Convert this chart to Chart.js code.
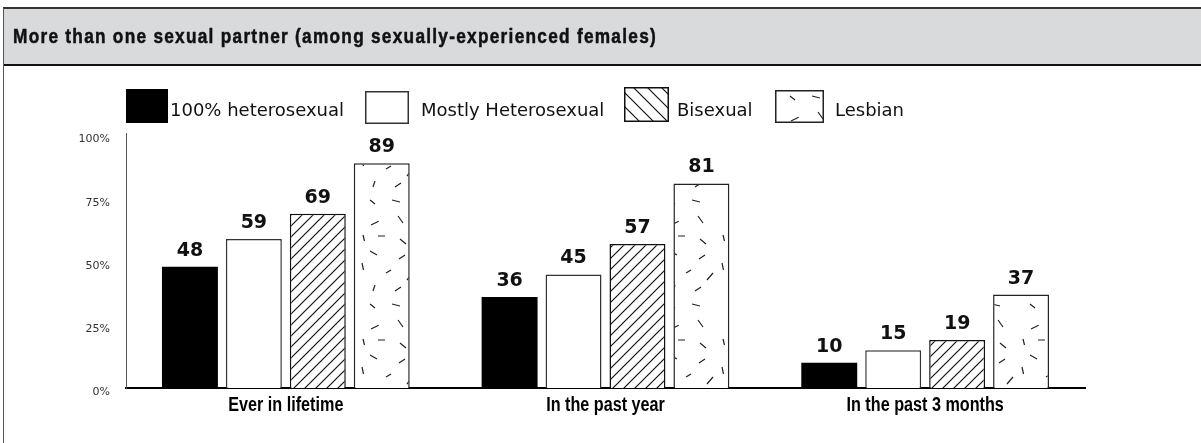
<!DOCTYPE html>
<html><head><meta charset="utf-8">
<script src="https://cdn.jsdelivr.net/npm/chart.js@4.4.0/dist/chart.umd.min.js"></script>
<style>
html,body{margin:0;padding:0;background:#fff;width:1201px;height:443px;overflow:hidden;}
#frame{position:absolute;left:3px;top:7px;width:1198px;height:436px;border-left:1.5px solid #555;border-top:2px solid #333;box-sizing:border-box;}
#title{position:absolute;left:0;top:0;width:100%;height:57px;background:#d9dadb;border-bottom:2px solid #111;box-sizing:border-box;}
#c{position:absolute;left:0;top:0;z-index:2;}
</style></head>
<body>
<div id="frame"><div id="title"></div></div>
<canvas id="c" width="1201" height="443"></canvas>
<script>
const titleText = "More than one sexual partner (among sexually-experienced females)";
const categories = ["Ever in lifetime", "In the past year", "In the past 3 months"];
const seriesNames = ["100% heterosexual", "Mostly Heterosexual", "Bisexual", "Lesbian"];
const heterosexual = [48, 36, 10];
const mostlyHetero = [59, 45, 15];
const bisexual = [69, 57, 19];
const lesbian = [89, 81, 37];
const yTickValues = [0, 25, 50, 75, 100];
const yTickLabels = ["0%", "25%", "50%", "75%", "100%"];

const canvas = document.getElementById('c');
const ctx = canvas.getContext('2d');

function hatch(size, dir, lw, color) {
  const c = document.createElement('canvas'); c.width = size; c.height = size;
  const g = c.getContext('2d');
  g.fillStyle = '#fff'; g.fillRect(0, 0, size, size);
  g.strokeStyle = color; g.lineWidth = lw;
  g.beginPath();
  if (dir === '/') {
    g.moveTo(-2, 2); g.lineTo(2, -2);
    g.moveTo(-1, size + 1); g.lineTo(size + 1, -1);
    g.moveTo(size - 2, size + 2); g.lineTo(size + 2, size - 2);
  } else {
    g.moveTo(-1, -1); g.lineTo(size + 1, size + 1);
    g.moveTo(-2, size - 2); g.lineTo(2, size + 2);
    g.moveTo(size - 2, -2); g.lineTo(size + 2, 2);
  }
  g.stroke();
  return ctx.createPattern(c, 'repeat');
}
function dashes() {
  const W = 60, H = 104;
  const c = document.createElement('canvas'); c.width = W; c.height = H;
  const g = c.getContext('2d');
  g.fillStyle = '#fff'; g.fillRect(0, 0, W, H);
  g.strokeStyle = '#222'; g.lineWidth = 1.2;
  const segs = [[11,17,18.7,13.3],[38,8,43,15],[3,27,4.5,33],[18,28,25,28],[40,31,46,36],[10,43,17,47],
    [39,51,45,47],[26,65,31,62],[47,72,53,65],[2,55,3.5,62],[13,83,15,77],[35,83,41,79],[10,96,15,100],[32,96,40,98]];
  g.beginPath();
  segs.forEach(s => { g.moveTo(s[0], s[1]); g.lineTo(s[2], s[3]); });
  g.stroke();
  return ctx.createPattern(c, 'repeat');
}
const hatchBar = hatch(11, '/', 1.2, '#111');
const hatchLegend = hatch(14, '\\', 1.2, '#111');
const dashPat = dashes();

const legendBoxes = [{x:126,y:89,w:42,h:34},{x:365,y:91,w:44,h:33},{x:624,y:87,w:45,h:35},{x:775,y:90,w:49,h:33}];
const legendTextX = [170, 421, 677, 835];
const legendFills = ['#000', '#fff', hatchLegend, dashPat];
const CONDENSE = 0.83;

const textPlugin = {
  id: 'texts',
  afterDraw(chart) {
    const g = chart.ctx;
    // title
    g.save();
    g.font = 'bold 20.5px "Liberation Sans"';
    g.letterSpacing = '1.5px';
    g.fillStyle = '#111'; g.strokeStyle = '#111'; g.lineWidth = 0.5;
    g.textAlign = 'left'; g.textBaseline = 'alphabetic';
    const w = g.measureText(titleText).width;
    g.translate(13, 42.5);
    g.scale(644 / w, 1);
    g.fillText(titleText, 0, 0);
    g.strokeText(titleText, 0, 0);
    g.restore();
    // category labels
    const xs = chart.scales.x;
    g.save();
    g.font = 'bold 19.5px "Liberation Sans"';
    g.fillStyle = '#000';
    g.textAlign = 'center'; g.textBaseline = 'alphabetic';
    categories.forEach((lab, i) => {
      g.save();
      g.translate(xs.getPixelForValue(i), 410.7);
      g.scale(CONDENSE, 1);
      g.fillText(lab, 0, 0);
      g.restore();
    });
    g.restore();
    // legend
    g.save();
    chart.data.datasets.forEach((ds, i) => {
      const b = legendBoxes[i];
      g.fillStyle = legendFills[i];
      g.fillRect(b.x, b.y, b.w, b.h);
      if (ds.borderWidth) {
        g.strokeStyle = ds.borderColor; g.lineWidth = 1.5;
        g.strokeRect(b.x + 0.75, b.y + 0.75, b.w - 1.5, b.h - 1.5);
      }
      g.fillStyle = '#111';
      g.font = '18px "DejaVu Sans"';
      g.textBaseline = 'alphabetic'; g.textAlign = 'left';
      g.fillText(ds.label, legendTextX[i], 116);
    });
    g.restore();
  }
};
const valuePlugin = {
  id: 'values',
  afterDatasetsDraw(chart) {
    const g = chart.ctx;
    g.save();
    g.font = 'bold 19px "DejaVu Sans"';
    g.fillStyle = '#111';
    g.textAlign = 'center'; g.textBaseline = 'alphabetic';
    chart.data.datasets.forEach((ds, i) => {
      chart.getDatasetMeta(i).data.forEach((el, j) => {
        g.fillText(String(ds.data[j]), el.x, el.y - 11);
      });
    });
    g.restore();
  }
};

new Chart(ctx, {
  type: 'bar',
  data: {
    labels: categories,
    datasets: [
      {label: seriesNames[0], data: heterosexual, backgroundColor: '#000', borderColor: '#000', borderWidth: 0},
      {label: seriesNames[1], data: mostlyHetero, backgroundColor: '#fff', borderColor: '#333', borderWidth: 1.5},
      {label: seriesNames[2], data: bisexual, backgroundColor: hatchBar, borderColor: '#111', borderWidth: 1.5},
      {label: seriesNames[3], data: lesbian, backgroundColor: dashPat, borderColor: '#222', borderWidth: 1.5}
    ]
  },
  options: {
    responsive: false, animation: false, devicePixelRatio: 1,
    categoryPercentage: 0.8, barPercentage: 0.875,
    layout: {padding: {left: 0, top: 133, right: 116, bottom: 15}},
    plugins: {legend: {display: false}, tooltip: {enabled: false}},
    scales: {
      x: {
        grid: {display: false, drawTicks: false},
        border: {display: true, color: '#000', width: 2},
        ticks: {display: false},
        afterFit(s) { s.height = 40; }
      },
      y: {
        min: 0, max: 101,
        afterBuildTicks(s) { s.ticks = yTickValues.map(v => ({value: v})); },
        grid: {display: false, drawTicks: false},
        border: {display: true, color: '#555', width: 1},
        ticks: {callback: (v) => yTickLabels[yTickValues.indexOf(v)], font: {family: '"DejaVu Sans"', size: 11},
                color: '#333', padding: 16, labelOffset: 4},
        afterFit(s) { s.width = 126; }
      }
    }
  },
  plugins: [valuePlugin, textPlugin]
});
</script>
</body></html>
